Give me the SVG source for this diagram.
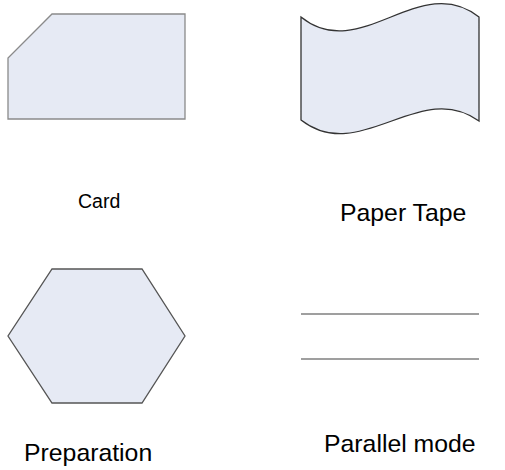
<svg xmlns="http://www.w3.org/2000/svg" width="505" height="470" viewBox="0 0 505 470">
<style>
.shape{fill:#E6EAF4;stroke-width:1.3;stroke-linejoin:miter}
.lbl{font-family:"Liberation Sans",Arial,sans-serif;fill:#000}
.big{font-size:24.8px}
.line{stroke:#7f7f7f;stroke-width:1.3;fill:none}
</style>
<rect width="505" height="470" fill="#fff"/>
<g id="card">
<path class="shape" stroke="#8a8a8a" d="M52,14 L185,14 L185,119 L8,119 L8,58 Z"/>
<text class="lbl" x="78" y="208" font-size="19.5">Card</text>
</g>
<g id="paper-tape">
<path class="shape" stroke="#333" d="M301,17 C360,65 420,-30 479,17 L479,121 C420,78 360,166 301,120 Z"/>
<text class="lbl big" x="340" y="221">Paper Tape</text>
</g>
<g id="preparation">
<path class="shape" stroke="#555" d="M52,269 L142,269 L185,336 L142,403 L52,403 L8,336 Z"/>
<text class="lbl big" x="24" y="461">Preparation</text>
</g>
<g id="parallel-mode">
<line class="line" x1="301" y1="314" x2="479" y2="314"/>
<line class="line" x1="301" y1="359" x2="479" y2="359"/>
<text class="lbl big" x="324" y="452">Parallel mode</text>
</g>
<g id="connectors"></g>
</svg>
